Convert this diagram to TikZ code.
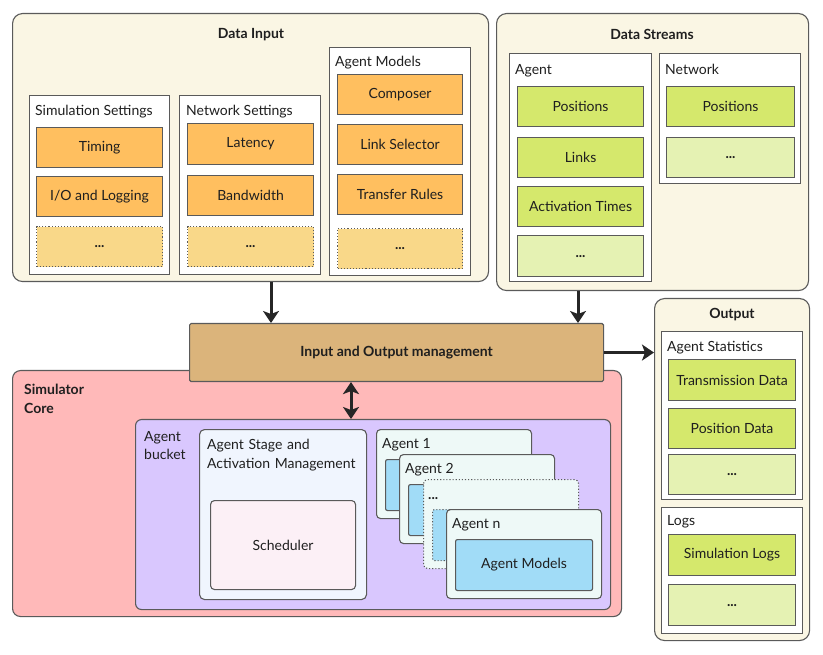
\documentclass[tikz,border=0pt]{standalone}
\usepackage{fontspec}
\setmainfont{Lato}
\usetikzlibrary{arrows.meta}

\definecolor{crema}{HTML}{FAF6E4}
\definecolor{borde}{HTML}{5A5A5A}
\definecolor{naranja}{HTML}{FFBF5F}
\definecolor{naranjaclaro}{HTML}{F9D889}
\definecolor{verde}{HTML}{D5E86C}
\definecolor{verdeclaro}{HTML}{E5F2B3}
\definecolor{ocre}{HTML}{DBB47B}
\definecolor{rosa}{HTML}{FFB9B9}
\definecolor{lila}{HTML}{D9C7FE}
\definecolor{gris}{HTML}{F0F5FE}
\definecolor{rosapalido}{HTML}{FCF0F6}
\definecolor{menta}{HTML}{EEF9F7}
\definecolor{azul}{HTML}{A1DCF7}

\begin{document}
\begin{tikzpicture}[x=1pt,y=-1pt,
    every node/.style={font=\fontsize{14}{18.5}\selectfont, text=black!88},
    caja/.style={draw=borde, line width=1.1pt, anchor=north west, inner sep=0pt},
    marco/.style={caja, fill=crema, rounded corners=10pt},
    grupo/.style={caja, fill=white},
    entrada/.style={caja, fill=naranja},
    entradaetc/.style={caja, fill=naranjaclaro, dotted},
    dato/.style={caja, fill=verde},
    datoetc/.style={caja, fill=verdeclaro},
    tarjeta/.style={caja, fill=menta, rounded corners=4pt, minimum width=155pt, minimum height=89pt},
    modelo/.style={caja, fill=azul, rounded corners=2pt, minimum width=137pt, minimum height=51pt},
    titulo/.style={font=\fontsize{14}{18.5}\selectfont\bfseries, yshift=-1.5pt},
    rotulo/.style={anchor=west, inner sep=0pt, yshift=-1.5pt},
    punta/.tip={Stealth[length=12pt,width=16pt,inset=3pt]},
    flecha/.style={line width=3pt, draw=black!85, -punta}]
    \useasboundingbox (0,0) rectangle (823,655);

    % Data Input
    \node[marco, minimum width=476pt, minimum height=268pt] (din) at (12,13) {};
    \node[titulo] (tdin) at (251,33) {Data Input};

    \node[grupo, minimum width=140pt, minimum height=179pt] (ss) at (29,95) {};
    \node[rotulo] (tss) at (35,110) {Simulation Settings};
    \node[entrada, minimum width=126pt, minimum height=40pt] (timing) at (36,127) {Timing};
    \node[entrada, minimum width=126pt, minimum height=40pt] (iolog) at (36,176) {I/O and Logging};
    \node[entradaetc, minimum width=126pt, minimum height=40pt] (ssetc) at (36,226) {\textbf{...}};

    \node[grupo, minimum width=141pt, minimum height=179pt] (ns) at (179,95) {};
    \node[rotulo] (tns) at (186,110) {Network Settings};
    \node[entrada, minimum width=126pt, minimum height=41pt] (latency) at (187,123) {Latency};
    \node[entrada, minimum width=126pt, minimum height=40pt] (bandwidth) at (187,175) {Bandwidth};
    \node[entradaetc, minimum width=126pt, minimum height=40pt] (nsetc) at (187,226) {\textbf{...}};

    \node[grupo, minimum width=141pt, minimum height=228pt] (am) at (329,47) {};
    \node[rotulo] (tam) at (335,61) {Agent Models};
    \node[entrada, minimum width=125pt, minimum height=40pt] (composer) at (337,74) {Composer};
    \node[entrada, minimum width=125pt, minimum height=40pt] (linksel) at (337,124) {Link Selector};
    \node[entrada, minimum width=125pt, minimum height=40pt] (transfer) at (337,174) {Transfer Rules};
    \node[entradaetc, minimum width=125pt, minimum height=40pt] (ametc) at (337,228) {\textbf{...}};

    % Data Streams
    \node[marco, minimum width=312pt, minimum height=277pt] (dstr) at (496,13) {};
    \node[titulo] (tdstr) at (652,33) {Data Streams};

    \node[grupo, minimum width=142pt, minimum height=228pt] (ag) at (509,53) {};
    \node[rotulo] (tag) at (515,69) {Agent};
    \node[dato, minimum width=126pt, minimum height=40pt] (pos) at (517,86) {Positions};
    \node[dato, minimum width=126pt, minimum height=40pt] (links) at (517,137) {Links};
    \node[dato, minimum width=126pt, minimum height=40pt] (act) at (517,186) {Activation Times};
    \node[datoetc, minimum width=126pt, minimum height=41pt] (agetc) at (517,235) {\textbf{...}};

    \node[grupo, minimum width=141pt, minimum height=130pt] (nw) at (659,53) {};
    \node[rotulo] (tnw) at (665,68) {Network};
    \node[dato, minimum width=128pt, minimum height=40pt] (npos) at (666,86) {Positions};
    \node[datoetc, minimum width=128pt, minimum height=40pt] (nwetc) at (666,137) {\textbf{...}};

    % Output
    \node[marco, minimum width=155pt, minimum height=342pt] (out) at (654,298) {};
    \node[titulo] (tout) at (732,313) {Output};

    \node[grupo, minimum width=141pt, minimum height=168pt] (stats) at (661,331) {};
    \node[rotulo] (tstats) at (667,346) {Agent Statistics};
    \node[dato, minimum width=127pt, minimum height=41pt] (trans) at (668,359) {Transmission Data};
    \node[dato, minimum width=127pt, minimum height=40pt] (posd) at (668,408) {Position Data};
    \node[datoetc, minimum width=127pt, minimum height=40pt] (statsetc) at (668,454) {\textbf{...}};

    \node[grupo, minimum width=141pt, minimum height=126pt] (logs) at (661,507) {};
    \node[rotulo] (tlogs) at (667,520) {Logs};
    \node[dato, minimum width=127pt, minimum height=41pt] (simlogs) at (668,534) {Simulation Logs};
    \node[datoetc, minimum width=127pt, minimum height=41pt] (logsetc) at (668,584) {\textbf{...}};

    % Simulator Core
    \node[caja, fill=rosa, rounded corners=8pt, minimum width=609pt, minimum height=246pt] (core) at (12,370) {};
    \node[titulo, anchor=north west, align=left, inner sep=0pt, yshift=1.5pt] (tcore) at (24,384) {Simulator\\Core};

    \node[caja, fill=lila, rounded corners=6pt, minimum width=475pt, minimum height=190pt] (bucket) at (135,419) {};
    \node[anchor=north west, align=left, inner sep=0pt] (tbucket) at (144,431) {Agent\\bucket};

    \node[caja, fill=gris, rounded corners=5pt, minimum width=167pt, minimum height=170pt] (stage) at (199,429) {};
    \node[anchor=north west, align=left, inner sep=0pt, text width=160pt] (tstage) at (207,439) {Agent Stage and\\Activation Management};
    \node[caja, fill=rosapalido, rounded corners=4pt, minimum width=145pt, minimum height=89pt] (sched) at (210,500) {Scheduler};

    \node[tarjeta] (ag1) at (376,429) {};
    \node[rotulo] (tag1) at (382,443) {Agent 1};
    \node[modelo] (m1) at (385,459) {};
    \node[tarjeta] (ag2) at (399,454) {};
    \node[rotulo] (tag2) at (405,468) {Agent 2};
    \node[modelo] (m2) at (408,484) {};
    \node[tarjeta, dotted] (agetc2) at (423,479) {};
    \node[rotulo] (tagetc2) at (428,497) {\textbf{...}};
    \node[modelo, dotted] (metc) at (432,509) {};
    \node[tarjeta] (agn) at (446,509) {};
    \node[rotulo] (tagn) at (452,523) {Agent n};
    \node[modelo] (mn) at (455,539) {Agent Models};

    % Input and Output management
    \node[caja, fill=ocre, rounded corners=1.5pt, minimum width=414pt, minimum height=58pt, font=\fontsize{14}{18.5}\selectfont\bfseries] (io) at (189,323) {Input and Output management};

    % conexiones
    \coordinate (xa) at (271,0);
    \coordinate (xb) at (578,0);
    \coordinate (xc) at (351,0);
    \draw[flecha] (din.south -| xa) -- (io.north -| xa);
    \draw[flecha] (dstr.south -| xb) -- (io.north -| xb);
    \draw[flecha] (io.east) -- (out.west |- io.east);
    \draw[flecha, punta-punta] (io.south -| xc) -- (bucket.north -| xc);
\end{tikzpicture}
\end{document}
